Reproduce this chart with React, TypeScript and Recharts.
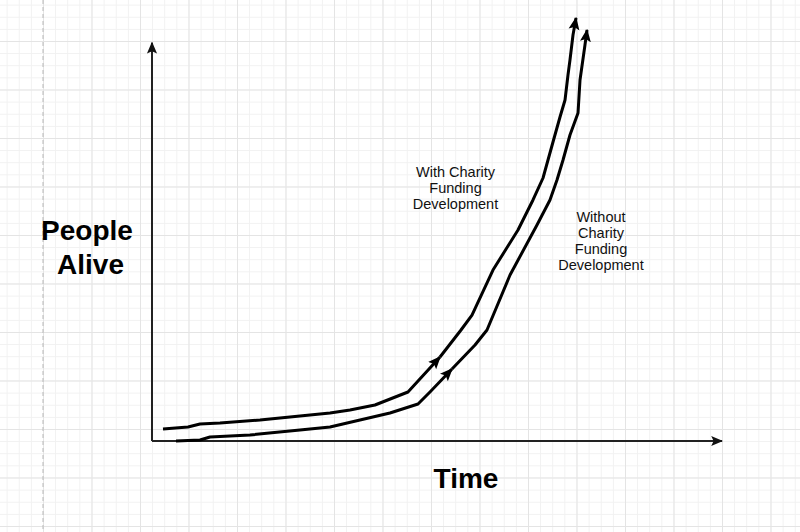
import React from "react";
import { LineChart, Line, XAxis, YAxis } from "recharts";

// Time (0..100 along x axis) vs People Alive (0..110 up y axis)
const withCharityEarly = [
  { t: 1.93, p: 3.01 },
  { t: 6.32, p: 3.52 },
  { t: 8.42, p: 4.27 },
  { t: 11.93, p: 4.52 },
  { t: 18.95, p: 5.27 },
  { t: 25.96, p: 6.28 },
  { t: 31.23, p: 7.03 },
  { t: 34.74, p: 7.79 },
  { t: 39.12, p: 9.04 },
  { t: 44.91, p: 12.31 },
  { t: 50.53, p: 21.1 },
];
const withCharityLate = [
  { t: 50.53, p: 21.1 },
  { t: 54.21, p: 27.88 },
  { t: 56.14, p: 31.64 },
  { t: 59.82, p: 42.94 },
  { t: 64.21, p: 52.99 },
  { t: 66.84, p: 60.53 },
  { t: 68.6, p: 66.05 },
  { t: 70.35, p: 75.09 },
  { t: 71.58, p: 81.37 },
  { t: 72.46, p: 85.64 },
  { t: 72.98, p: 91.92 },
  { t: 73.33, p: 95.69 },
  { t: 73.86, p: 101.96 },
  { t: 74.39, p: 106.23 },
];
const withoutCharityEarly = [
  { t: 4.21, p: 0 },
  { t: 8.42, p: 0.25 },
  { t: 10.18, p: 1.0 },
  { t: 17.19, p: 1.51 },
  { t: 25.96, p: 2.76 },
  { t: 31.23, p: 3.52 },
  { t: 36.49, p: 5.27 },
  { t: 41.75, p: 7.03 },
  { t: 46.67, p: 9.29 },
  { t: 48.77, p: 12.31 },
  { t: 52.63, p: 18.08 },
];
const withoutCharityLate = [
  { t: 52.63, p: 18.08 },
  { t: 56.67, p: 24.11 },
  { t: 58.77, p: 27.88 },
  { t: 62.81, p: 41.69 },
  { t: 67.54, p: 54.25 },
  { t: 69.82, p: 60.53 },
  { t: 71.05, p: 65.55 },
  { t: 72.11, p: 70.57 },
  { t: 73.33, p: 76.85 },
  { t: 74.74, p: 82.37 },
  { t: 75.09, p: 90.66 },
  { t: 75.96, p: 99.45 },
  { t: 76.32, p: 103.22 },
];
const timeAxis = [
  { t: 0, p: 0 },
  { t: 100, p: 0 },
];
const peopleAxis = [
  { t: 0, p: 0 },
  { t: 0, p: 100 },
];

const yTitleLines = ["People", "Alive"];
const xTitle = "Time";
const withLabelLines = ["With Charity", "Funding", "Development"];
const withoutLabelLines = ["Without", "Charity", "Funding", "Development"];

const FONT = "'Liberation Sans', Arial, Helvetica, sans-serif";

export default function App() {
  const curveProps = {
    type: "linear" as const,
    dataKey: "p",
    stroke: "#000",
    strokeWidth: 3,
    dot: false,
    activeDot: false,
    isAnimationActive: false,
    strokeLinejoin: "round" as const,
    markerEnd: "url(#arrowCurve)",
  };
  const axisProps = {
    type: "linear" as const,
    dataKey: "p",
    stroke: "#222",
    strokeWidth: 2,
    dot: false,
    activeDot: false,
    isAnimationActive: false,
    markerEnd: "url(#arrowAxis)",
  };
  return (
    <div
      style={{
        position: "absolute",
        left: 0,
        top: 0,
        width: 800,
        height: 532,
        backgroundColor: "#fff",
        backgroundImage: [
          "linear-gradient(to right, #e4e4e4 1px, transparent 1px)",
          "linear-gradient(to bottom, #e4e4e4 1px, transparent 1px)",
          "linear-gradient(to right, #f1f1f1 1px, transparent 1px)",
          "linear-gradient(to bottom, #f1f1f1 1px, transparent 1px)",
        ].join(","),
        backgroundSize:
          "48.5px 48.5px, 48.5px 48.5px, 12.125px 12.125px, 12.125px 12.125px",
        backgroundPosition: "43px 41px, 43px 41px, 43px 41px, 43px 41px",
        overflow: "hidden",
      }}
    >
      <svg
        width={800}
        height={532}
        style={{ position: "absolute", left: 0, top: 0 }}
      >
        <defs>
          <marker
            id="arrowCurve"
            viewBox="0 0 10 10"
            markerWidth={13}
            markerHeight={13}
            markerUnits="userSpaceOnUse"
            refX={9}
            refY={5}
            orient="auto"
          >
            <path d="M0,0.8 L10,5 L0,9.2 L2,5 Z" fill="#000" />
          </marker>
          <marker
            id="arrowAxis"
            viewBox="0 0 10 10"
            markerWidth={12}
            markerHeight={12}
            markerUnits="userSpaceOnUse"
            refX={9}
            refY={5}
            orient="auto"
          >
            <path d="M0,0.8 L10,5 L0,9.2 L2,5 Z" fill="#111" />
          </marker>
        </defs>
        <line
          x1={43}
          y1={0}
          x2={43}
          y2={532}
          stroke="#b8b8b8"
          strokeWidth={1}
          strokeDasharray="4 3"
        />
      </svg>
      <div style={{ position: "absolute", left: 0, top: 0 }}>
        <LineChart
          width={800}
          height={532}
          margin={{ top: 3, right: 78, bottom: 91, left: 152 }}
        >
          <XAxis
            type="number"
            dataKey="t"
            domain={[0, 100]}
            hide
            allowDataOverflow={false}
          />
          <YAxis type="number" domain={[0, 110]} hide />
          <Line data={timeAxis} {...axisProps} />
          <Line data={peopleAxis} {...axisProps} />
          <Line data={withCharityEarly} {...curveProps} />
          <Line data={withCharityLate} {...curveProps} />
          <Line data={withoutCharityEarly} {...curveProps} />
          <Line data={withoutCharityLate} {...curveProps} />
        </LineChart>
      </div>
      <svg
        width={800}
        height={532}
        style={{ position: "absolute", left: 0, top: 0, pointerEvents: "none" }}
      >
        <g fontFamily={FONT} fontWeight="bold" fontSize={28} fill="#000">
          <text x={87} y={240} textAnchor="middle">
            {yTitleLines[0]}
          </text>
          <text x={90.5} y={274} textAnchor="middle">
            {yTitleLines[1]}
          </text>
          <text x={466} y={488} textAnchor="middle">
            {xTitle}
          </text>
        </g>
        <g fontFamily={FONT} fontSize={14.5} fill="#111">
          {withLabelLines.map((s, i) => (
            <text key={s} x={455.5} y={177 + i * 16.2} textAnchor="middle">
              {s}
            </text>
          ))}
          {withoutLabelLines.map((s, i) => (
            <text key={s + i} x={601} y={222 + i * 16} textAnchor="middle">
              {s}
            </text>
          ))}
        </g>
      </svg>
    </div>
  );
}
